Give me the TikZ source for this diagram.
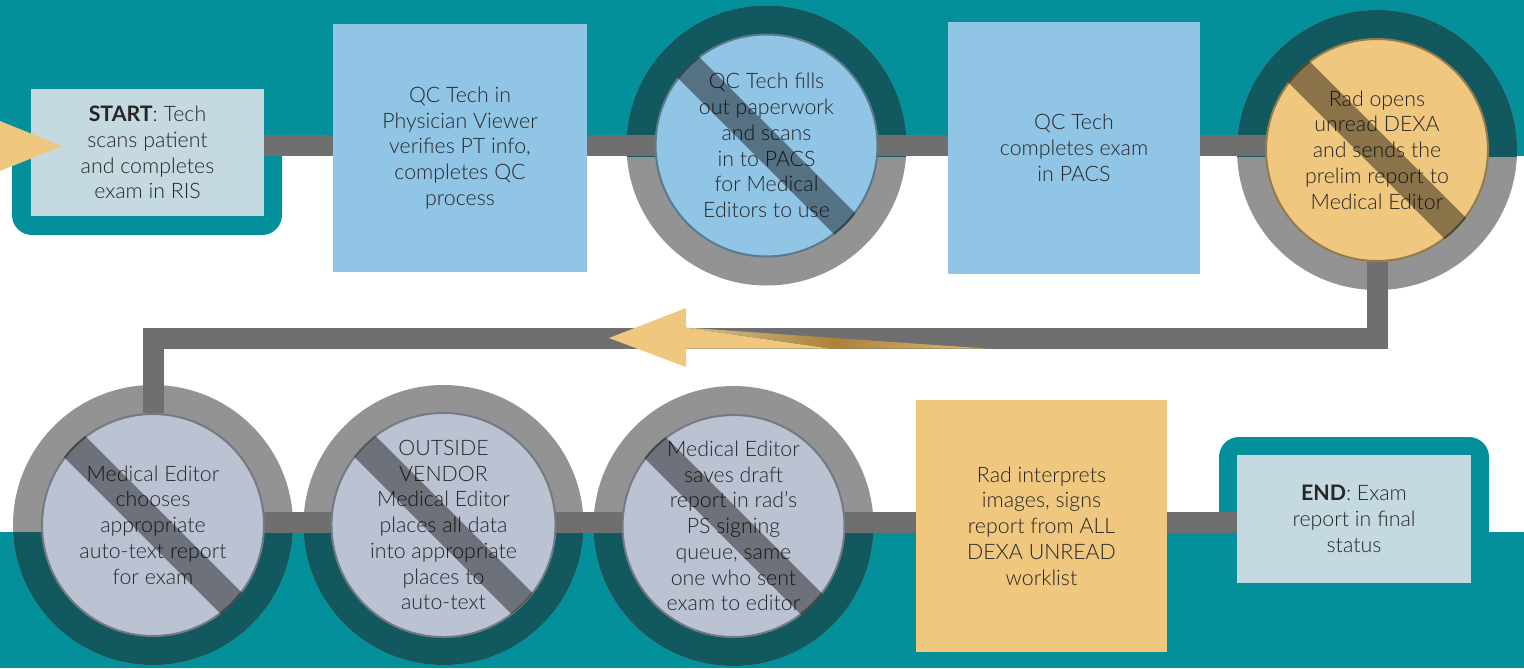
\documentclass[tikz,border=0pt]{standalone}
\usepackage{fontspec}
\setmainfont{Lato}[UprightFont=* Light, BoldFont=* Bold]
\usetikzlibrary{calc}

\definecolor{band}{HTML}{03909B}
\definecolor{ringdark}{HTML}{12595F}
\definecolor{ringgray}{HTML}{949394}
\definecolor{linkgray}{HTML}{6F6F6F}
\definecolor{skyblue}{HTML}{91C5E5}
\definecolor{sand}{HTML}{EFC77F}
\definecolor{lavender}{HTML}{BBC3D3}
\definecolor{paleblue}{HTML}{C4D9E0}
\definecolor{ink}{HTML}{262626}
\definecolor{bronze}{HTML}{AC823A}
\definecolor{cream}{HTML}{E2DCB6}
\definecolor{lightgold}{HTML}{EBD08E}

% one drawing unit = 0.75pt
\newcommand{\pxu}{0.75pt}

\pgfdeclarelayer{bandlayer}
\pgfdeclarelayer{ringlayer}
\pgfdeclarelayer{linklayer}
\pgfsetlayers{bandlayer,ringlayer,linklayer,main}

% colour run along the tail of the return arrow
\pgfdeclarehorizontalshading{tailrun}{100bp}{
  color(0bp)=(cream); color(25bp)=(cream!70!bronze); color(50bp)=(bronze);
  color(70bp)=(bronze!40!lightgold); color(100bp)=(lightgold)}

\tikzset{
  txt/.style={text=ink, font=\fontsize{16}{19.3}\selectfont, align=center, inner sep=0pt},
  stepbox/.style={txt, rectangle, fill=#1},
  disc/.style={txt, circle, minimum size=222*\pxu, fill=#1, draw=#1!62!black, line width=1.5pt},
  link/.style={draw=linkgray, line width=21*\pxu, line join=miter},
  stripe/.style={fill=black, opacity=0.42},
}

% ring around a step disc: grey outside the band, dark teal inside it
\newcommand{\ringat}[3]{% node, band top, band bottom
  \fill[ringgray] (#1.center) circle[radius=140];
  \begin{scope}
    \clip (0,#2) rectangle (1524,#3);
    \fill[ringdark] (#1.center) circle[radius=140];
  \end{scope}}

% diagonal bar across a step disc
\newcommand{\barover}[1]{%
  \begin{scope}
    \clip (#1.center) circle[radius=112];
    \begin{scope}[shift={(#1.center)}, rotate=-45]
      \fill[stripe] (-130,-15) -- (130,-15) -- (130,15) -- (-130,15) -- cycle;
    \end{scope}
  \end{scope}}

\begin{document}
\begin{tikzpicture}[x=0.75pt, y=-0.75pt]
\useasboundingbox (0,0) rectangle (1524,668);

% ---------- steps ----------
\node[stepbox=paleblue, minimum width=233*\pxu, minimum height=127*\pxu] (start) at (147.5,152.5)
  {\textbf{START}: Tech\\scans patient\\and completes\\exam in RIS};
\node[stepbox=skyblue, minimum width=254*\pxu, minimum height=248*\pxu] (qcview) at (460,148)
  {QC Tech in\\Physician Viewer\\verifies PT info,\\completes QC\\process};
\node[disc=skyblue] (qcfill) at (766.5,145.5)
  {QC Tech fills\\out paperwork\\and scans\\in to PACS\\for Medical\\Editors to use};
\node[stepbox=skyblue, minimum width=252*\pxu, minimum height=252*\pxu] (qcpacs) at (1074,148)
  {QC Tech\\completes exam\\in PACS};
\node[disc=sand] (radopen) at (1377,150)
  {Rad opens\\unread DEXA\\and sends the\\prelim report to\\Medical Editor};

\node[disc=lavender] (edchoose) at (153,525)
  {Medical Editor\\chooses\\appropriate\\auto-text report\\for exam};
\node[disc=lavender] (vendor) at (443.5,525)
  {OUTSIDE\\VENDOR\\Medical Editor\\places all data\\into appropriate\\places to\\auto-text};
\node[disc=lavender] (edsave) at (733.5,526)
  {Medical Editor\\saves draft\\report in rad’s\\PS signing\\queue, same\\one who sent\\exam to editor};
\node[stepbox=sand, minimum width=251*\pxu, minimum height=252*\pxu] (radsign) at (1041.5,526)
  {Rad interprets\\images, signs\\report from ALL\\DEXA UNREAD\\worklist};
\node[stepbox=paleblue, minimum width=234*\pxu, minimum height=128*\pxu] (end) at (1354,519)
  {\textbf{END}: Exam\\report in final\\status};

\barover{qcfill}
\barover{radopen}
\barover{edchoose}
\barover{vendor}
\barover{edsave}

% ---------- background bands ----------
\begin{pgfonlayer}{bandlayer}
  \fill[white] (0,0) rectangle (1524,668);
  \fill[band] (0,0) rectangle (1524,156);
  \fill[band] (0,532) rectangle (1524,668);
  \fill[band, rounded corners=15pt] (12,100) rectangle (282,235);
  \fill[band, rounded corners=15pt] (1219,437) rectangle (1489,600);
\end{pgfonlayer}

% ---------- rings ----------
\begin{pgfonlayer}{ringlayer}
  \ringat{qcfill}{0}{156}
  \ringat{radopen}{0}{156}
  \ringat{edchoose}{532}{668}
  \ringat{vendor}{532}{668}
  \ringat{edsave}{532}{668}
\end{pgfonlayer}

% ---------- connectors ----------
\coordinate (toprow) at (0,145.5);
\coordinate (turn) at (0,338);
\coordinate (lowrow) at (0,522);
\begin{pgfonlayer}{linklayer}
  \draw[link] (start.east |- toprow) -- (qcview.west |- toprow);
  \draw[link] (qcview.east |- toprow) -- (qcfill.center |- toprow);
  \draw[link] (qcfill.center |- toprow) -- (qcpacs.west |- toprow);
  \draw[link] (qcpacs.east |- toprow) -- (radopen.center |- toprow);
  \draw[link] (radopen.south) |- (edchoose.north |- turn) -- (edchoose.north);
  \draw[link] (edchoose.center |- lowrow) -- (vendor.center |- lowrow);
  \draw[link] (vendor.center |- lowrow) -- (edsave.center |- lowrow);
  \draw[link] (edsave.center |- lowrow) -- (radsign.west |- lowrow);
  \draw[link] (radsign.east |- lowrow) -- (end.west |- lowrow);
\end{pgfonlayer}

% ---------- direction arrows ----------
\fill[sand] (-10,117) -- (62,146) -- (-10,175) -- cycle;
\fill[sand] (609,338) -- (686,308) -- (686,367) -- cycle;
\fill[sand] (685,327.5) -- (830,348.5) -- (685,348.5) -- cycle;
\shade[shading=tailrun]
  (685,327.5) -- (985,348.5) -- (830,348.5) -- cycle;
\end{tikzpicture}
\end{document}
